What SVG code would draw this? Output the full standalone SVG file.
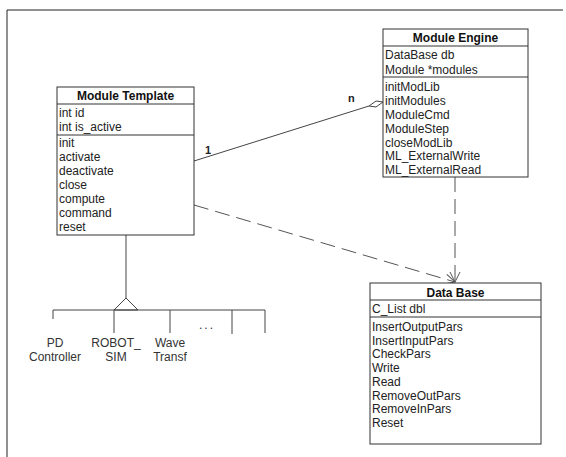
<svg xmlns="http://www.w3.org/2000/svg" width="566" height="457" viewBox="0 0 566 457">
<style>
.box{fill:#fff;stroke:#333;stroke-width:1}
.sep{stroke:#333;stroke-width:1}
.t{font-family:"Liberation Sans",Arial,sans-serif;font-size:12px;fill:#222}
.h{font-family:"Liberation Sans",Arial,sans-serif;font-size:12px;font-weight:bold;fill:#111;text-anchor:middle}
.lab{font-family:"Liberation Sans",Arial,sans-serif;font-size:12px;fill:#333;text-anchor:middle}
.ln{stroke:#444;stroke-width:1;fill:none}
.dash{stroke:#555;stroke-width:1;fill:none;stroke-dasharray:15 7}
</style>
<defs>
<marker id="open" viewBox="0 0 12 12" refX="11" refY="6" markerWidth="12" markerHeight="12" markerUnits="userSpaceOnUse" orient="auto">
<path d="M1,1 L11,6 L1,11" fill="none" stroke="#555" stroke-width="1"/>
</marker>
</defs>
<rect width="566" height="457" fill="#fff"/>
<path d="M7,457 V10 H563" fill="none" stroke="#222" stroke-width="1"/>

<g id="connectors">
<line class="ln" x1="194" y1="161" x2="369" y2="106"/>
<path d="M369,106 L376,101 L383,102 L376,107 Z" fill="#fff" stroke="#444" stroke-width="1"/>
<text class="t" x="205" y="154" style="font-weight:bold;font-size:11px">1</text>
<text class="t" x="348" y="102" style="font-weight:bold;font-size:11px">n</text>
<path class="dash" d="M194,205 L455,282" marker-end="url(#open)"/>
<path class="dash" d="M455,177 L455,282" marker-end="url(#open)"/>
<line class="ln" x1="126" y1="235" x2="126" y2="298"/>
<path d="M126,298 L114,310 L138,310 Z" fill="#fff" stroke="#444" stroke-width="1"/>
<line class="ln" x1="53" y1="310" x2="265" y2="310"/>
<line class="ln" x1="53" y1="310" x2="53" y2="319"/>
<line class="ln" x1="114" y1="310" x2="114" y2="333"/>
<line class="ln" x1="170" y1="310" x2="170" y2="333"/>
<line class="ln" x1="232" y1="310" x2="232" y2="334"/>
<line class="ln" x1="265" y1="310" x2="265" y2="333"/>
</g>

<g id="module-template">
<rect class="box" x="57" y="87" width="137" height="148"/>
<line class="sep" x1="57" y1="104" x2="194" y2="104"/>
<line class="sep" x1="57" y1="135" x2="194" y2="135"/>
<text class="h" x="125.5" y="100">Module Template</text>
<text class="t" x="59" y="117">int id</text>
<text class="t" x="59" y="131">int is_active</text>
<text class="t" x="59" y="147">init</text>
<text class="t" x="59" y="161">activate</text>
<text class="t" x="59" y="175">deactivate</text>
<text class="t" x="59" y="189">close</text>
<text class="t" x="59" y="203">compute</text>
<text class="t" x="59" y="217">command</text>
<text class="t" x="59" y="231">reset</text>
</g>

<g id="module-engine">
<rect class="box" x="383" y="29" width="145" height="148"/>
<line class="sep" x1="383" y1="46" x2="528" y2="46"/>
<line class="sep" x1="383" y1="77" x2="528" y2="77"/>
<text class="h" x="455.5" y="42">Module Engine</text>
<text class="t" x="385" y="59">DataBase db</text>
<text class="t" x="385" y="74">Module *modules</text>
<text class="t" x="385" y="91">initModLib</text>
<text class="t" x="385" y="105">initModules</text>
<text class="t" x="385" y="119">ModuleCmd</text>
<text class="t" x="385" y="133">ModuleStep</text>
<text class="t" x="385" y="147">closeModLib</text>
<text class="t" x="385" y="160">ML_ExternalWrite</text>
<text class="t" x="385" y="174">ML_ExternalRead</text>
</g>

<g id="data-base">
<rect class="box" x="370" y="283" width="171" height="161"/>
<line class="sep" x1="370" y1="300" x2="541" y2="300"/>
<line class="sep" x1="370" y1="317" x2="541" y2="317"/>
<text class="h" x="455.5" y="297">Data Base</text>
<text class="t" x="372" y="313">C_List dbl</text>
<text class="t" x="372" y="331">InsertOutputPars</text>
<text class="t" x="372" y="345">InsertInputPars</text>
<text class="t" x="372" y="358">CheckPars</text>
<text class="t" x="372" y="372">Write</text>
<text class="t" x="372" y="386">Read</text>
<text class="t" x="372" y="400">RemoveOutPars</text>
<text class="t" x="372" y="413">RemoveInPars</text>
<text class="t" x="372" y="427">Reset</text>
</g>

<g id="subclasses">
<text class="lab" x="55" y="347">PD</text>
<text class="lab" x="55" y="361">Controller</text>
<text class="lab" x="116" y="347">ROBOT_</text>
<text class="lab" x="116" y="361">SIM</text>
<text class="lab" x="170" y="347">Wave</text>
<text class="lab" x="170" y="361">Transf</text>
<text class="lab" x="207" y="329" style="letter-spacing:2px">...</text>
</g>
</svg>
